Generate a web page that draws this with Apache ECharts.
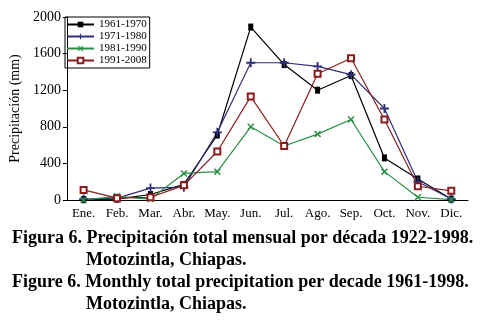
<!DOCTYPE html>
<html><head><meta charset="utf-8">
<script src="https://cdn.jsdelivr.net/npm/echarts@6/dist/echarts.min.js"></script>
<style>html,body{margin:0;padding:0;background:#fff}#c{width:484px;height:329px}</style>
</head><body><div id="c"></div>
<script>
var months = ['Ene.','Feb.','Mar.','Abr.','May.','Jun.','Jul.','Ago.','Sep.','Oct.','Nov.','Dic.'];
var yTicks = [0,400,800,1200,1600,2000];
var s1961 = [5,10,60,170,710,1890,1480,1200,1360,460,230,10];
var s1971 = [10,20,130,140,740,1500,1500,1460,1370,1000,200,10];
var s1981 = [0,40,10,290,310,800,590,720,880,310,30,5];
var s1991 = [110,20,30,160,530,1130,590,1380,1550,880,150,100];
var names = ['1961-1970','1971-1980','1981-1990','1991-2008'];
var caption = ['Figura 6. Precipitación total mensual por década 1922-1998.','Motozintla, Chiapas.','Figure 6. Monthly total precipitation per decade 1961-1998.','Motozintla, Chiapas.'];

var serif = "'Liberation Serif','DejaVu Serif',serif";
var chart = echarts.init(document.getElementById('c'));
var plusPath = 'path://M4,0H6V4H10V6H6V10H4V6H0V4H4Z';
var xPath = 'path://M0,1.5L1.5,0L5,3.5L8.5,0L10,1.5L6.5,5L10,8.5L8.5,10L5,6.5L1.5,10L0,8.5L3.5,5Z';
function mk(name, data, color, symbol, size, extra){
  return Object.assign({
    name:name, type:'line', data:data, symbol:symbol, symbolSize:size,
    lineStyle:{color:color,width:1.2}, itemStyle:{color:color},
    animation:false
  }, extra||{});
}
chart.setOption({
  animation:false,
  textStyle:{fontFamily:serif},
  grid:{left:63,right:16,top:17,bottom:129,containLabel:false},
  legend:{
    orient:'vertical', left:65, top:17, itemWidth:27, itemHeight:7, itemGap:1,
    padding:[2,3,2,1], borderColor:'#000', borderWidth:1,
    textStyle:{fontFamily:serif,fontSize:11,color:'#000'},
    data:names
  },
  xAxis:{
    type:'category', data:months, boundaryGap:true,
    axisLine:{lineStyle:{color:'#000',width:1}},
    axisTick:{inside:true,length:4,lineStyle:{color:'#000'}},
    axisLabel:{color:'#000',fontFamily:serif,fontSize:13,margin:7,interval:0}
  },
  yAxis:{
    type:'value', min:yTicks[0], max:yTicks[yTicks.length-1], interval:400,
    name:'Precipitación (mm)', nameLocation:'middle', nameGap:37, nameRotate:90,
    nameTextStyle:{color:'#000',fontFamily:serif,fontSize:14},
    axisLine:{show:true,lineStyle:{color:'#000',width:1}},
    axisTick:{show:true,length:4,lineStyle:{color:'#000'}},
    axisLabel:{color:'#000',fontFamily:serif,fontSize:14,margin:6,formatter:function(v){return String(v);}},
    splitLine:{show:false}
  },
  series:[
    mk(names[0], s1961, '#000000', 'rect', [5,7]),
    mk(names[1], s1971, '#2e2e7e', plusPath, 9),
    mk(names[2], s1981, '#2a8f45', xPath, 7),
    mk(names[3], s1991, '#8b1c1c', 'emptyRect', 6, {itemStyle:{color:'#8b1c1c',borderWidth:1.2}})
  ],
  graphic:[
    {type:'text', left:12, top:229, style:{text:caption[0], font:"bold 18px "+serif, fill:'#000'}},
    {type:'text', left:86, top:251, style:{text:caption[1], font:"bold 18px "+serif, fill:'#000'}},
    {type:'text', left:12, top:273, style:{text:caption[2], font:"bold 18px "+serif, fill:'#000'}},
    {type:'text', left:86, top:295, style:{text:caption[3], font:"bold 18px "+serif, fill:'#000'}}
  ]
});
</script></body></html>
